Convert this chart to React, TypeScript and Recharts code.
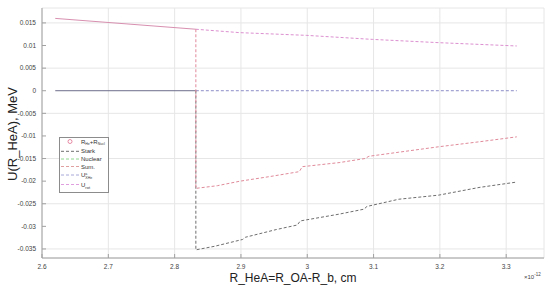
import React from 'react';
import { LineChart, Line, XAxis, YAxis, CartesianGrid, Legend } from 'recharts';

const xTicks = [2.6, 2.7, 2.8, 2.9, 3.0, 3.1, 3.2, 3.3];
const yTicks = [-0.035, -0.03, -0.025, -0.02, -0.015, -0.01, -0.005, 0, 0.005, 0.01, 0.015];

// U_rot, solid part before the jump and dashed part after it
const rotSolidR = [2.62, 2.832];
const rotSolidU = [0.016, 0.0136];
const rotR = [2.832, 2.898, 2.9985, 3.098, 3.1985, 3.316];
const rotU = [0.0136, 0.01285, 0.01225, 0.01136, 0.01063, 0.0099];

// zero level
const zeroR = [2.62, 2.832];
const zeroU = [0, 0];
const xheR = [2.832, 3.316];
const xheU = [0, 0];

// Sum.
const sumR = [2.832, 2.832, 2.8647, 2.8988, 2.943, 2.988, 2.9925, 3.048, 3.087, 3.093, 3.138, 3.198, 3.259, 3.316];
const sumU = [0.0136, -0.0216, -0.021, -0.02, -0.019, -0.0179, -0.0168, -0.0159, -0.015, -0.0145, -0.0136, -0.0124, -0.0113, -0.0102];

// Stark
const starkR = [2.832, 2.832, 2.8605, 2.9025, 2.907, 2.9535, 2.985, 2.9895, 3.048, 3.0855, 3.09, 3.138, 3.198, 3.259, 3.316];
const starkU = [0, -0.0352, -0.0344, -0.0329, -0.0324, -0.0307, -0.0297, -0.0288, -0.0273, -0.0262, -0.0256, -0.024, -0.0231, -0.0214, -0.0202];

const legendNames = ['Stark', 'Nuclear', 'Sum.', 'U_XHe', 'U_rot'];
const legendColors = ['#6e6e6e', '#90d890', '#e0a0a0', '#a8a8d8', '#e0a0e0'];

const X_DOMAIN = [2.6, 3.357];
const Y_DOMAIN = [-0.037, 0.0183];
const BOX = '#a0a0a0';
const FONT = '"Liberation Sans", Arial, sans-serif';

const pts = (r: number[], u: number[]) => r.map((x, i) => ({ x, y: u[i] }));

const fmtX = (v: number) => String(parseFloat(v.toFixed(2)));
const fmtY = (v: number) => String(parseFloat(v.toFixed(3)));

function LegendBox() {
  const rowsY = [14.3, 22, 29.5, 38, 47.5];
  const label = (name: string, y: number) => {
    if (name === 'U_XHe') {
      return (
        <text x={22} y={y + 2} fontSize={6} fill="#333">
          U<tspan fontSize={3.5} dy={-2.5}>a</tspan>
          <tspan fontSize={3.5} dx={-2} dy={4.5}>XHe</tspan>
        </text>
      );
    }
    if (name === 'U_rot') {
      return (
        <text x={22} y={y + 2} fontSize={6} fill="#333">
          U<tspan fontSize={4} dy={2}>rot</tspan>
        </text>
      );
    }
    return (
      <text x={22} y={y + 2} fontSize={6} fill="#333">
        {name}
      </text>
    );
  };
  return (
    <svg width={50} height={57} style={{ display: 'block', fontFamily: FONT }}>
      <rect x={0.5} y={0.5} width={49} height={55} fill="#fff" stroke="#8c8c8c" strokeWidth={1} />
      <circle cx={11} cy={4.5} r={2} fill="none" stroke="#e07090" strokeWidth={0.8} />
      <text x={22} y={6.5} fontSize={6} fill="#333">
        R<tspan fontSize={3.5} dy={1.5}>He</tspan>
        <tspan dy={-1.5}>+R</tspan>
        <tspan fontSize={3.5} dy={1.5}>Nucl</tspan>
      </text>
      {legendNames.map((n, i) => (
        <g key={n}>
          <line x1={2} x2={20} y1={rowsY[i]} y2={rowsY[i]} stroke={legendColors[i]} strokeWidth={1} strokeDasharray="3 2" />
          {label(n, rowsY[i])}
        </g>
      ))}
    </svg>
  );
}

export default function App() {
  return (
    <div style={{ position: 'absolute', left: 0, top: 0, width: 550, height: 293, background: '#fff', fontFamily: FONT }}>
      <LineChart width={550} height={293} margin={{ top: 8, right: 6, left: 0, bottom: 0 }}>
        <CartesianGrid stroke="#e6e6e6" strokeWidth={1} />
        <XAxis
          dataKey="x"
          type="number"
          domain={X_DOMAIN}
          ticks={xTicks}
          allowDataOverflow
          height={35}
          tickSize={-4}
          tickMargin={10}
          tickFormatter={fmtX}
          stroke={BOX}
          tick={{ fill: '#444', fontSize: 6.5 }}
          label={() => (
            <g style={{ fontFamily: FONT }}>
              <text x={293} y={282} textAnchor="middle" fontSize={12} fill="#222">
                R_HeA=R_OA-R_b, cm
              </text>
              <text x={524} y={279} fontSize={6} fill="#444">
                ×10<tspan fontSize={4.5} dy={-3}>-12</tspan>
              </text>
            </g>
          )}
        />
        <XAxis xAxisId="top" orientation="top" type="number" domain={X_DOMAIN} ticks={xTicks} allowDataOverflow height={0} tickSize={-4} tick={false} stroke={BOX} />
        <YAxis
          type="number"
          domain={Y_DOMAIN}
          ticks={yTicks}
          allowDataOverflow
          width={42}
          tickSize={-4}
          tickMargin={10}
          tickFormatter={fmtY}
          stroke={BOX}
          tick={{ fill: '#444', fontSize: 6.5 }}
          label={() => (
            <text x={17} y={134} transform="rotate(-90 17 134)" textAnchor="middle" fontSize={13} fill="#222" style={{ fontFamily: FONT }}>
              U(R_HeA), MeV
            </text>
          )}
        />
        <YAxis yAxisId="right" orientation="right" type="number" domain={Y_DOMAIN} ticks={yTicks} allowDataOverflow width={0} tickSize={-4} tick={false} stroke={BOX} />
        <Legend
          layout="horizontal"
          verticalAlign="middle"
          align="center"
          wrapperStyle={{ left: 59, top: 137, width: 50, height: 57 }}
          content={() => <LegendBox />}
        />
        <Line data={pts(zeroR, zeroU)} dataKey="y" type="linear" dot={false} stroke="#6c6c8c" strokeWidth={1} isAnimationActive={false} />
        <Line data={pts(xheR, xheU)} dataKey="y" type="linear" dot={false} stroke="#8c8cc8" strokeWidth={1} strokeDasharray="3 2" isAnimationActive={false} />
        <Line data={pts(rotSolidR, rotSolidU)} dataKey="y" type="linear" dot={false} stroke="#d890b0" strokeWidth={1} isAnimationActive={false} />
        <Line data={pts(rotR, rotU)} dataKey="y" type="linear" dot={false} stroke="#dc90d0" strokeWidth={1} strokeDasharray="3 2" isAnimationActive={false} />
        <Line data={pts(starkR, starkU)} dataKey="y" type="linear" dot={false} stroke="#6e6e6e" strokeWidth={1} strokeDasharray="3 2" isAnimationActive={false} />
        <Line data={pts(sumR, sumU)} dataKey="y" type="linear" dot={false} stroke="#e08a9a" strokeWidth={1} strokeDasharray="3 2" isAnimationActive={false} />
      </LineChart>
    </div>
  );
}
